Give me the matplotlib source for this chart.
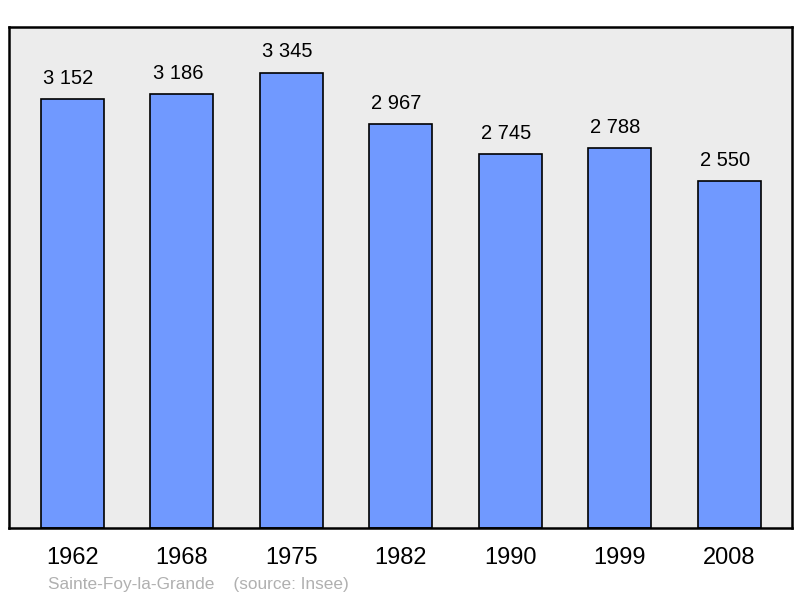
import numpy as np
import matplotlib.pyplot as plt

## Datos
annees = ['1962', '1968', '1975', '1982', '1990', '1999', '2008']
population = [3152, 3186, 3345, 2967, 2745, 2788, 2550]
etiquettes = ['3 152', '3 186', '3 345', '2 967', '2 745', '2 788', '2 550']

plt.rcParams['font.family'] = ['Liberation Sans', 'DejaVu Sans']

fig = plt.figure(figsize=(8, 5.98), dpi=100)
ax = fig.add_axes([9/800, 70/598, 783/800, 501/598])
ax.set_facecolor('#ececec')

x = np.arange(len(annees))
ancho = 0.575
ax.bar(x, population, width=ancho, color='#7099ff', edgecolor='black', linewidth=1.2)

## etiquetas alineadas al borde izquierdo de cada barra
for xi, v, t in zip(x, population, etiquettes):
    ax.annotate(t, (xi - ancho / 2, v), xytext=(1.5, 8), textcoords='offset points',
                ha='left', va='bottom', fontsize=14.5)

ax.set_xlim(-0.58, len(annees) - 1 + 0.575)
ax.set_ylim(0, max(population) * 1.1)
ax.set_yticks([])
ax.set_xticks(x)
ax.set_xticklabels(annees, fontsize=17)
ax.tick_params(axis='x', length=0, pad=13.5)

for s in ax.spines.values():
    s.set_linewidth(1.8)

fig.text(48/800, 1 - 584/598, 'Sainte-Foy-la-Grande    (source: Insee)',
         color='#b0b0b0', fontsize=12.4, va='center', ha='left')

fig.savefig('out.png', dpi=100)
